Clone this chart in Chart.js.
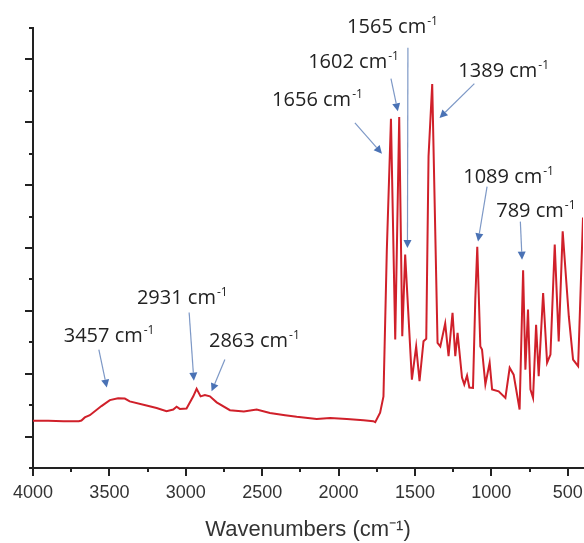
<!DOCTYPE html>
<html>
<head>
<meta charset="utf-8">
<script src="https://cdn.jsdelivr.net/npm/chart.js@4.4.1/dist/chart.umd.min.js"></script>
<style>
  html, body { margin: 0; padding: 0; background: #fff; }
  #wrap { width: 584px; height: 543px; }
</style>
</head>
<body>
<div id="wrap"><canvas id="ftirChart" width="584" height="543"></canvas></div>
<script>
// spectrum (wavenumber in cm-1, intensity in tick units)
const wavenumbers = [
  4000, 3900, 3800, 3700, 3683, 3661, 3628, 3552, 3497, 3443, 3399, 3367,
  3257, 3191, 3126, 3082, 3060, 3039, 2995, 2951, 2929, 2903, 2875, 2842,
  2798, 2711, 2620, 2536, 2449, 2350, 2274, 2143, 2055, 1946, 1837, 1773,
  1760, 1728, 1706, 1684, 1657, 1629, 1603, 1583, 1564, 1520, 1492, 1470,
  1444, 1426, 1411, 1387, 1352, 1334, 1302, 1280, 1254, 1236, 1221, 1192,
  1177, 1159, 1144, 1120, 1105, 1092, 1072, 1061, 1039, 1011, 995, 952,
  908, 880, 854, 815, 792, 777, 760, 744, 727, 707, 690, 661,
  635, 613, 585, 559, 533, 493, 465, 432, 400,
];
const intensity = [
  1.50, 1.50, 1.49, 1.49, 1.51, 1.61, 1.68, 1.97, 2.16, 2.22, 2.21, 2.12,
  1.99, 1.91, 1.81, 1.86, 1.95, 1.88, 1.89, 2.28, 2.52, 2.28, 2.32, 2.28,
  2.09, 1.84, 1.80, 1.86, 1.75, 1.68, 1.63, 1.56, 1.59, 1.56, 1.52, 1.49,
  1.46, 1.76, 2.28, 6.95, 11.11, 4.09, 11.17, 4.19, 6.79, 2.81, 3.87, 2.76,
  4.03, 4.11, 9.92, 12.22, 3.98, 3.87, 4.60, 3.56, 4.94, 3.56, 4.30, 2.88,
  2.66, 2.94, 2.56, 2.55, 5.36, 7.04, 3.87, 3.77, 2.66, 3.35, 2.50, 2.44,
  2.23, 3.19, 2.97, 1.86, 6.29, 3.13, 5.04, 2.50, 2.23, 4.56, 2.92, 5.57,
  3.35, 3.61, 7.11, 4.03, 7.53, 4.83, 3.45, 3.24, 7.97,
];
const xTickValues = [500, 1000, 1500, 2000, 2500, 3000, 3500, 4000];
const peakLabels = ["3457", "2931", "2863", "1656", "1602", "1565", "1389", "1089", "789"];

// where each label sits and where its arrow points, in axis units
const labelAnchors = [
  { text: [3799, 4.0], from: [3569, 3.77], to: [3517, 2.56] },
  { text: [3320, 5.23], from: [2978, 4.95], to: [2947, 2.78] },
  { text: [2848, 3.86], from: [2744, 3.45], to: [2831, 2.44] },
  { text: [2435, 11.51], from: [1893, 10.98], to: [1716, 10.0] },
  { text: [2199, 12.73], from: [1657, 12.39], to: [1612, 11.35] },
  { text: [1944, 13.85], from: [1546, 13.37], to: [1549, 7.0] },
  { text: [1216, 12.44], from: [1111, 12.23], to: [1339, 11.14] },
  { text: [1184, 9.07], from: [1028, 8.95], to: [1087, 7.21] },
  { text: [968, 7.99], from: [810, 7.84], to: [799, 6.63] },
];

const AXIS_COLOR = "#222";
const LABEL_FONT = '"Open Sans", sans-serif';

function drawSupText(ctx, base, sup, left, baseline, size) {
  ctx.font = `${size}px ${LABEL_FONT}`;
  ctx.fillText(base, left, baseline);
  const w = ctx.measureText(base).width;
  ctx.font = `${Math.round(size * 0.62)}px ${LABEL_FONT}`;
  ctx.fillText(sup, left + w + 1, baseline - size * 0.4);
}

function drawArrow(ctx, x1, y1, x2, y2) {
  const ang = Math.atan2(y2 - y1, x2 - x1);
  const head = 8;
  const bx = x2 - head * Math.cos(ang);
  const by = y2 - head * Math.sin(ang);
  ctx.strokeStyle = "#7d98c6";
  ctx.lineWidth = 1.2;
  ctx.beginPath();
  ctx.moveTo(x1, y1);
  ctx.lineTo(bx, by);
  ctx.stroke();
  ctx.fillStyle = "#4a72b5";
  ctx.beginPath();
  ctx.moveTo(x2, y2);
  ctx.lineTo(bx + 4 * Math.sin(ang), by - 4 * Math.cos(ang));
  ctx.lineTo(bx - 4 * Math.sin(ang), by + 4 * Math.cos(ang));
  ctx.closePath();
  ctx.fill();
}

const axisTicks = {
  id: "axisTicks",
  afterDraw(chart) {
    const { ctx, scales: { x, y } } = chart;
    ctx.save();
    ctx.strokeStyle = AXIS_COLOR;
    ctx.lineWidth = 2;
    for (let v = 0; v <= 14; v++) {
      const py = Math.round(y.getPixelForValue(v));
      const len = v % 2 === 1 ? 8 : 4;
      ctx.beginPath();
      ctx.moveTo(x.left, py);
      ctx.lineTo(x.left - len, py);
      ctx.stroke();
    }
    for (let v = 4000; v >= 500; v -= 250) {
      const px = Math.round(x.getPixelForValue(v));
      const len = v % 500 === 0 ? 8 : 4;
      ctx.beginPath();
      ctx.moveTo(px, y.bottom);
      ctx.lineTo(px, y.bottom + len);
      ctx.stroke();
    }
    ctx.restore();
  },
};

const peakAnnotations = {
  id: "peakAnnotations",
  afterDatasetsDraw(chart) {
    const { ctx, scales: { x, y } } = chart;
    ctx.save();
    peakLabels.forEach((label, i) => {
      const a = labelAnchors[i];
      drawArrow(
        ctx,
        x.getPixelForValue(a.from[0]), y.getPixelForValue(a.from[1]),
        x.getPixelForValue(a.to[0]), y.getPixelForValue(a.to[1]),
      );
      ctx.fillStyle = "#222";
      ctx.textBaseline = "alphabetic";
      ctx.textAlign = "left";
      drawSupText(ctx, `${label} cm`, "-1",
        x.getPixelForValue(a.text[0]), y.getPixelForValue(a.text[1]), 20);
    });
    ctx.restore();
  },
};

new Chart(document.getElementById("ftirChart"), {
  type: "line",
  data: {
    datasets: [
      {
        data: wavenumbers.map((wn, i) => ({ x: wn, y: intensity[i] })),
        borderColor: "#d0202a",
        borderWidth: 2,
        pointRadius: 0,
        tension: 0,
        fill: false,
      },
    ],
  },
  options: {
    responsive: false,
    animation: false,
    devicePixelRatio: 1,
    events: [],
    layout: { padding: { left: 33, right: 1, top: 28, bottom: 0 } },
    plugins: { legend: { display: false }, tooltip: { enabled: false } },
    scales: {
      x: {
        type: "linear",
        reverse: true,
        min: 400,
        max: 4000,
        afterBuildTicks: (axis) => {
          axis.ticks = xTickValues.map((v) => ({ value: v }));
        },
        afterFit: (axis) => {
          axis.height = 75;
          axis.paddingLeft = 0;
          axis.paddingRight = 0;
        },
        grid: { display: false, drawTicks: false },
        border: { display: true, color: AXIS_COLOR, width: 2 },
        ticks: {
          autoSkip: false,
          maxRotation: 0,
          padding: 14,
          color: "#333",
          font: { family: '"Liberation Sans", Arial, sans-serif', size: 18 },
          callback: (v) => String(v),
        },
        title: {
          display: true,
          text: "Wavenumbers (cm\u207B\u00B9)",
          color: "#333",
          font: { family: '"Liberation Sans", Arial, sans-serif', size: 22 },
          padding: { top: 0, bottom: 0 },
        },
      },
      y: {
        type: "linear",
        min: 0,
        max: 14,
        afterFit: (axis) => {
          axis.width = 0;
        },
        grid: { display: false, drawTicks: false },
        border: { display: true, color: AXIS_COLOR, width: 2 },
        ticks: { display: false },
      },
    },
  },
  plugins: [axisTicks, peakAnnotations],
});
</script>
</body>
</html>
